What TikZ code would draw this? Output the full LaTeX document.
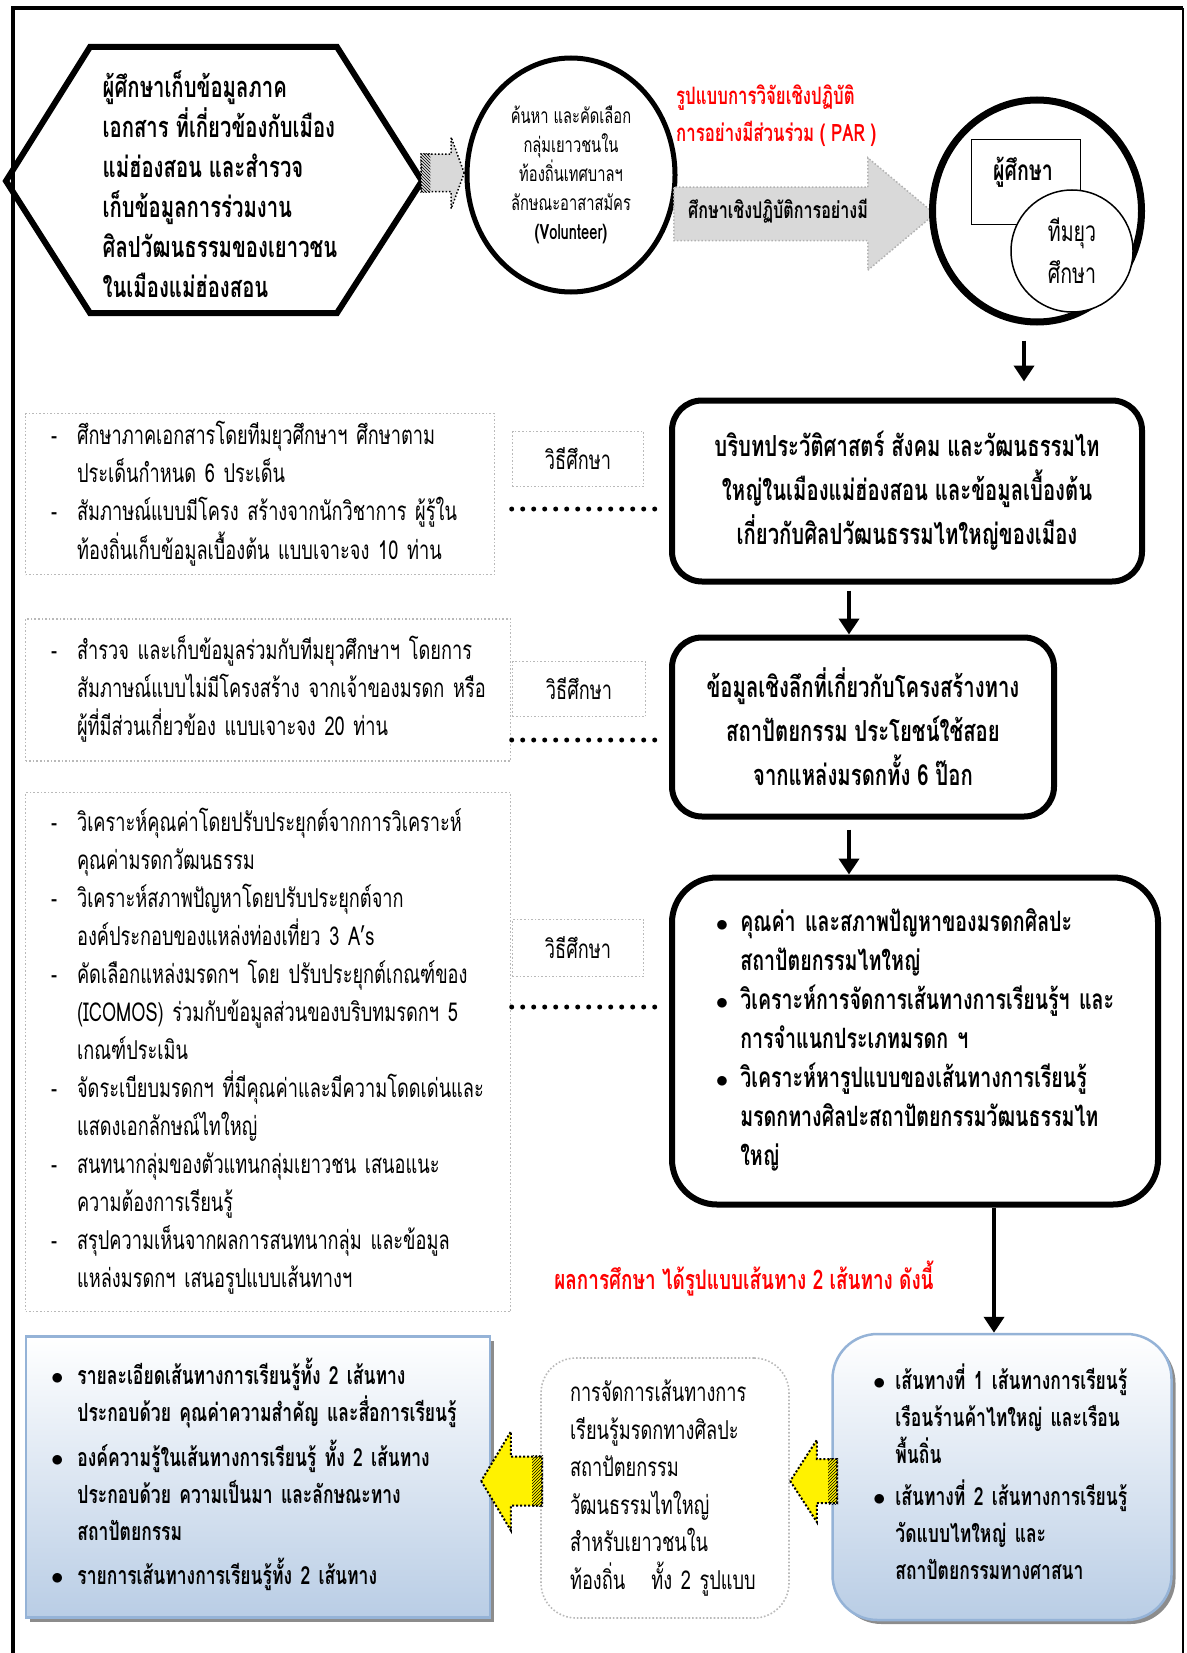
\documentclass[tikz,border=0pt]{standalone}
\usepackage{fontspec}
\setmainfont[Script=Thai,FakeStretch=0.7]{Loma}
\usepackage{tikz}
\usetikzlibrary{shapes.geometric,shapes.arrows,arrows.meta,patterns,shadows}

\definecolor{rojo}{HTML}{FF0000}
\definecolor{grisflecha}{HTML}{D9D9D9}
\definecolor{azulborde}{HTML}{95B3D7}
\definecolor{azulfondo}{HTML}{B9CDE5}

\newcommand{\fhex}{\fontsize{29}{40}\selectfont\bfseries}
\newcommand{\fvol}{\fontsize{21}{29}\selectfont}
\newcommand{\fpar}{\fontsize{24}{37}\selectfont\bfseries}
\newcommand{\fflecha}{\fontsize{23}{30}\selectfont\bfseries}
\newcommand{\fcir}{\fontsize{28}{42}\selectfont}
\newcommand{\fcaja}{\fontsize{29}{44}\selectfont\bfseries}
\newcommand{\fbul}{\fontsize{28}{39}\selectfont\bfseries}
\newcommand{\fmet}{\fontsize{26}{38}\selectfont}
\newcommand{\fres}{\fontsize{27}{36}\selectfont\bfseries}
\newcommand{\fazul}{\fontsize{25}{37}\selectfont\bfseries}
\newcommand{\fmid}{\fontsize{26}{37.5}\selectfont}

\begin{document}
\begin{tikzpicture}[x=1pt, y=-1pt,
    % Estilos para no repetir código
    texto/.style={inner sep=0pt, align=left},
    caja/.style={draw, line width=6pt, rounded corners=30pt, align=center, font=\fcaja},
    punteada/.style={draw=gray!55, dotted, line width=1.6pt, align=left},
    metodo/.style={punteada, minimum width=131pt, minimum height=55pt, font=\fmet},
    enlace/.style={line width=5pt, dash pattern=on 0pt off 11pt, line cap=round},
    flecha/.style={line width=4pt, -{Triangle[length=16pt,width=20pt]}},
    azul/.style={draw=azulborde, line width=2.5pt, top color=white, bottom color=azulfondo,
      drop shadow={shadow xshift=4pt, shadow yshift=-4pt, fill=black!45, opacity=1},
      align=left, font=\fazul},
    flechagris/.style={single arrow, fill=grisflecha, draw=black, dotted, line width=1.5pt,
      inner xsep=0pt, anchor=tip},
    amarilla/.style={single arrow, shape border rotate=180, fill=yellow, draw=black, dotted,
      line width=2pt, inner xsep=0pt, anchor=tip}
  ]

  \useasboundingbox (0,0) rectangle (1186,1653);

  % 1. Marco de la hoja
  \draw[line width=3.5pt] (13,1653) -- (13,8) -- (1183,8);
  \draw[line width=1.5pt] (1183,8) -- (1183,1653);

  % 2. Hexágono y primer círculo
  \draw[line width=6pt, line join=miter] (6,181) -- (90,47) -- (337,47) -- (422,181)
    -- (337,313) -- (90,313) -- cycle;
  \node[texto, font=\fhex] (hex) at (220,184) {ผู้ศึกษาเก็บข้อมูลภาค\\เอกสาร ที่เกี่ยวข้องกับเมือง\\แม่ฮ่องสอน และสำรวจ\\เก็บข้อมูลการร่วมงาน\\ศิลปวัฒนธรรมของเยาวชน\\ในเมืองแม่ฮ่องสอน};

  \node[flechagris, inner ysep=18pt, minimum height=43pt, minimum width=70pt,
    single arrow head extend=17pt, single arrow tip angle=140] (fg) at (465,173) {};
  \fill[pattern=north west lines] (fg.before tail) rectangle ([xshift=10pt]fg.after tail);

  \node[ellipse, draw, line width=5pt, minimum width=208pt, minimum height=234pt,
    font=\fvol, align=center] (vol) at (571,175) {ค้นหา และคัดเลือก\\กลุ่มเยาวชนใน\\ท้องถิ่นเทศบาลฯ\\ลักษณะอาสาสมัคร\\\textbf{(Volunteer)}};

  % 3. Flecha PAR y equipo
  \node[texto, font=\fpar, text=rojo, anchor=west] (par) at (676,116) {รูปแบบการวิจัยเชิงปฏิบัติ\\การอย่างมีส่วนร่วม ( PAR )};
  \node[flechagris, draw=gray!60, inner ysep=26pt, minimum height=261pt, minimum width=111pt,
    single arrow head extend=29.5pt, single arrow tip angle=80] (fpar) at (936,214) {};
  \node[texto, font=\fflecha, anchor=west] (tpar) at (688,211) {ศึกษาเชิงปฏิบัติการอย่างมี};

  \node[ellipse, draw, line width=7pt, minimum width=209pt, minimum height=222pt] (equipo) at (1037,211) {};
  \node[draw, line width=1.5pt, minimum width=109pt, minimum height=85pt] (inv) at (1026,182) {};
  \node[texto, font=\fcir\bfseries] (tinv) at (1023,172) {ผู้ศึกษา};
  \node[circle, draw, fill=white, line width=1.5pt, minimum size=122pt, font=\fcir,
    align=center] (yuva) at (1072,251) {ทีมยุว\\ศึกษา};

  % 4. Cajas centrales
  \node[caja, minimum width=470pt, minimum height=181pt] (b1) at (907,491) {บริบทประวัติศาสตร์ สังคม และวัฒนธรรมไท\\ใหญ่ในเมืองแม่ฮ่องสอน และข้อมูลเบื้องต้น\\เกี่ยวกับศิลปวัฒนธรรมไทใหญ่ของเมือง};
  \node[caja, minimum width=382pt, minimum height=179pt] (b2) at (863,727) {ข้อมูลเชิงลึกที่เกี่ยวกับโครงสร้างทาง\\สถาปัตยกรรม ประโยชน์ใช้สอย\\จากแหล่งมรดกทั้ง 6 ป๊อก};
  \node[caja, rounded corners=45pt, minimum width=486pt, minimum height=327pt, font=\fbul,
    text width=404pt] (b3) at (915,1041) {%
    \begin{tabular}{@{}c@{\hspace{12pt}}l@{}}
    $\bullet$ & คุณค่า และสภาพปัญหาของมรดกศิลปะ\\
     & สถาปัตยกรรมไทใหญ่\\
    $\bullet$ & วิเคราะห์การจัดการเส้นทางการเรียนรู้ฯ และ\\
     & การจำแนกประเภทมรดก ฯ\\
    $\bullet$ & วิเคราะห์หารูปแบบของเส้นทางการเรียนรู้\\
     & มรดกทางศิลปะสถาปัตยกรรมวัฒนธรรมไท\\
     & ใหญ่
    \end{tabular}};

  % 5. Cajas de método (izquierda)
  \node[punteada, minimum width=469pt, minimum height=161pt, font=\fmet, text width=418pt] (m1) at (260,494) {%
    \begin{tabular}{@{}l@{\hspace{20pt}}l@{}}
    - & ศึกษาภาคเอกสารโดยทีมยุวศึกษาฯ ศึกษาตาม\\
     & ประเด็นกำหนด 6 ประเด็น\\
    - & สัมภาษณ์แบบมีโครง สร้างจากนักวิชาการ ผู้รู้ใน\\
     & ท้องถิ่นเก็บข้อมูลเบื้องต้น แบบเจาะจง 10 ท่าน
    \end{tabular}};
  \node[punteada, minimum width=485pt, minimum height=142pt, font=\fmet, text width=434pt] (m2) at (268,690) {%
    \begin{tabular}{@{}l@{\hspace{20pt}}l@{}}
    - & สำรวจ และเก็บข้อมูลร่วมกับทีมยุวศึกษาฯ โดยการ\\
     & สัมภาษณ์แบบไม่มีโครงสร้าง จากเจ้าของมรดก หรือ\\
     & ผู้ที่มีส่วนเกี่ยวข้อง แบบเจาะจง 20 ท่าน
    \end{tabular}};
  \node[punteada, minimum width=485pt, minimum height=519pt, font=\fmet, text width=434pt] (m3) at (268,1052) {%
    \begin{tabular}{@{}l@{\hspace{20pt}}l@{}}
    - & วิเคราะห์คุณค่าโดยปรับประยุกต์จากการวิเคราะห์\\
     & คุณค่ามรดกวัฒนธรรม\\
    - & วิเคราะห์สภาพปัญหาโดยปรับประยุกต์จาก\\
     & องค์ประกอบของแหล่งท่องเที่ยว 3 A’s\\
    - & คัดเลือกแหล่งมรดกฯ โดย ปรับประยุกต์เกณฑ์ของ\\
     & (ICOMOS) ร่วมกับข้อมูลส่วนของบริบทมรดกฯ 5\\
     & เกณฑ์ประเมิน\\
    - & จัดระเบียบมรดกฯ ที่มีคุณค่าและมีความโดดเด่นและ\\
     & แสดงเอกลักษณ์ไทใหญ่\\
    - & สนทนากลุ่มของตัวแทนกลุ่มเยาวชน  เสนอแนะ\\
     & ความต้องการเรียนรู้\\
    - & สรุปความเห็นจากผลการสนทนากลุ่ม และข้อมูล\\
     & แหล่งมรดกฯ เสนอรูปแบบเส้นทางฯ
    \end{tabular}};

  \node[metodo] (w1) at (578,459) {วิธีศึกษา};
  \node[metodo, minimum width=133pt] (w2) at (579,689) {วิธีศึกษา};
  \node[metodo, minimum height=57pt] (w3) at (578,948) {วิธีศึกษา};

  % 6. Resultados
  \node[texto, font=\fres, text=rojo] (res) at (744,1279) {ผลการศึกษา ได้รูปแบบเส้นทาง 2 เส้นทาง ดังนี้};

  \node[azul, minimum width=464pt, minimum height=281pt, text width=414pt] (prod) at (258,1477) {%
    \begin{tabular}{@{}c@{\hspace{14pt}}l@{}}
    $\bullet$ & รายละเอียดเส้นทางการเรียนรู้ทั้ง 2 เส้นทาง\\
     & ประกอบด้วย คุณค่าความสำคัญ และสื่อการเรียนรู้\\[7pt]
    $\bullet$ & องค์ความรู้ในเส้นทางการเรียนรู้ ทั้ง 2 เส้นทาง\\
     & ประกอบด้วย ความเป็นมา และลักษณะทาง\\
     & สถาปัตยกรรม\\[7pt]
    $\bullet$ & รายการเส้นทางการเรียนรู้ทั้ง 2 เส้นทาง
    \end{tabular}};
  \node[punteada, rounded corners=35pt, minimum width=248pt, minimum height=260pt,
    font=\fmid, text width=190pt] (gest) at (665,1488) {การจัดการเส้นทางการ\\เรียนรู้มรดกทางศิลปะ\\สถาปัตยกรรม\\วัฒนธรรมไทใหญ่\\สำหรับเยาวชนใน\\ท้องถิ่น~~~ทั้ง 2 รูปแบบ};
  \node[azul, rounded corners=45pt, minimum width=339pt, minimum height=286pt, text width=258pt] (rutas) at (1002,1477) {%
    \begin{tabular}{@{}c@{\hspace{10pt}}l@{}}
    $\bullet$ & เส้นทางที่ 1 เส้นทางการเรียนรู้\\
     & เรือนร้านค้าไทใหญ่ และเรือน\\
     & พื้นถิ่น\\[5pt]
    $\bullet$ & เส้นทางที่ 2 เส้นทางการเรียนรู้\\
     & วัดแบบไทใหญ่ และ\\
     & สถาปัตยกรรมทางศาสนา
    \end{tabular}};

  \node[amarilla, inner ysep=23.5pt, minimum height=61pt, minimum width=97pt,
    single arrow head extend=25pt, single arrow tip angle=118] (fa1) at (480,1481) {};
  \fill[pattern=north east lines] (fa1.before tail) rectangle ([xshift=-11pt]fa1.after tail);
  \node[amarilla, inner ysep=21pt, minimum height=47pt, minimum width=80pt,
    single arrow head extend=19pt, single arrow tip angle=114] (fa2) at (789,1481) {};
  \fill[pattern=north east lines] (fa2.before tail) rectangle ([xshift=-10pt]fa2.after tail);

  % 7. Conexiones
  \draw[flecha, shorten <=15pt, shorten >=16pt] (1024,0 |- equipo.south) -- (1024,0 |- b1.north);
  \draw[flecha, shorten <=6pt] (849,0 |- b1.south) -- (849,0 |- b2.north);
  \draw[flecha, shorten <=10pt] (849,0 |- b2.south) -- (849,0 |- b3.north);
  \draw[flecha] (994,0 |- b3.south) -- (994,0 |- rutas.north);

  \draw[enlace, shorten >=7pt] (w1.west |- 0,509) -- (b1.west |- 0,509);
  \draw[enlace, shorten >=7pt] (w2.west |- 0,740) -- (b2.west |- 0,740);
  \draw[enlace, shorten >=7pt] (w3.west |- 0,1007) -- (b3.west |- 0,1007);

\end{tikzpicture}
\end{document}
